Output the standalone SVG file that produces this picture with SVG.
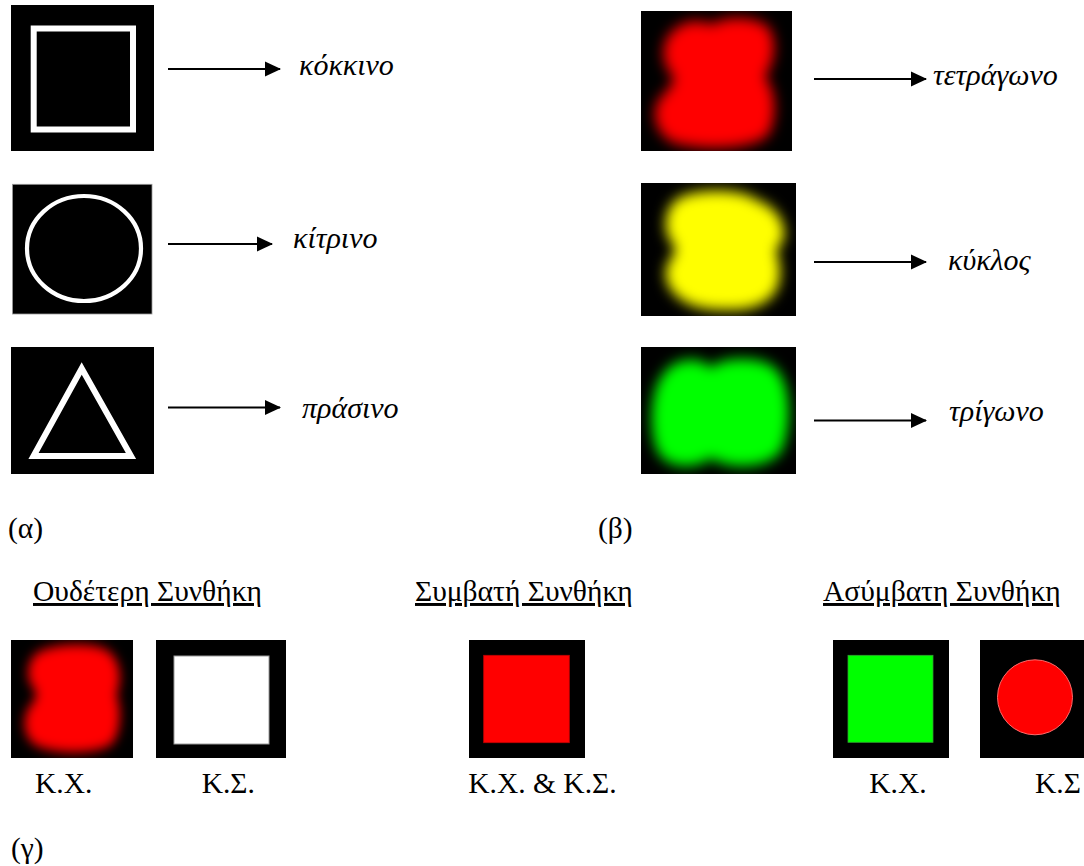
<svg xmlns="http://www.w3.org/2000/svg" width="1084" height="866" viewBox="0 0 1084 866">
  <style>
    text { font-family: 'Liberation Serif', 'Times New Roman', serif; font-size: 29.5px; fill: #000; }
    .it { font-style: italic; font-size: 30px; }
    .ul { text-decoration: underline; }
    .panel { fill: #000; }
    .outline { fill: none; stroke: #fff; stroke-width: 6; }
    .arrow { stroke: #000; stroke-width: 2; fill: none; marker-end: url(#head); }
  </style>
  <defs>
    <marker id="head" markerUnits="userSpaceOnUse" markerWidth="16" markerHeight="16" refX="15" refY="8" orient="auto">
      <path d="M0,0.5 L16,8 L0,15.5 Z" fill="#000"/>
    </marker>
    <filter id="soft" x="-30%" y="-30%" width="160%" height="160%">
      <feGaussianBlur stdDeviation="7"/>
    </filter>
    <filter id="softSmall" x="-30%" y="-30%" width="160%" height="160%">
      <feGaussianBlur stdDeviation="6"/>
    </filter>
    <filter id="ring" x="-10%" y="-10%" width="120%" height="120%">
      <feGaussianBlur stdDeviation="0.7"/>
    </filter>
    <clipPath id="panelClip" clipPathUnits="objectBoundingBox">
      <rect x="0" y="0" width="1" height="1"/>
    </clipPath>
  </defs>

  <!-- (a) outline shapes mapped to colour names -->
  <g id="shape-square">
    <rect class="panel" x="11" y="5" width="143" height="146"/>
    <rect class="outline" x="33.7" y="28.5" width="99.3" height="101"/>
  </g>
  <g id="shape-circle">
    <rect class="panel" x="12.5" y="184.3" width="139.5" height="129.7" stroke="#999" stroke-width="0.8"/>
    <ellipse cx="84" cy="248.5" rx="57" ry="52.5" fill="none" stroke="#fff" stroke-width="4.2" filter="url(#ring)"/>
  </g>
  <g id="shape-triangle">
    <rect class="panel" x="11" y="347" width="143" height="127"/>
    <polygon class="outline" points="81.7,368.5 33.5,456 131,456"/>
  </g>
  <text id="word-red" class="it" x="299" y="75">κόκκινο</text>
  <text id="word-yellow" class="it" x="293" y="248">κίτρινο</text>
  <text id="word-green" class="it" x="302" y="418">πράσινο</text>

  <!-- (b) colour blobs mapped to shape names -->
  <g id="blob-red" transform="translate(641,11)" clip-path="url(#panelClip)">
    <rect class="panel" x="0" y="0" width="151" height="140"/>
    <path fill="#ff0000" filter="url(#soft)" transform="translate(75,0) scale(0.93,1) translate(-75,0)" d="M34,16 C50,6 62,12 72,13 C86,4 118,5 131,16 C141,28 139,52 127,66 C139,76 142,106 131,124 C114,139 62,140 30,132 C8,123 3,97 18,84 C25,77 30,71 30,66 C18,58 10,30 34,16 Z"/>
  </g>
  <g id="blob-yellow" transform="translate(641,183)" clip-path="url(#panelClip)">
    <rect class="panel" x="0" y="0" width="155" height="133"/>
    <path fill="#ffff00" filter="url(#soft)" transform="translate(83,0) scale(0.91,1) translate(-81,0)" d="M30,16 C46,6 98,4 117,17 C132,22 149,34 147,54 C146,62 138,64 138,68 C141,75 145,86 141,101 C135,120 112,128 85,127 C58,128 40,122 29,113 C15,101 13,86 24,74 C29,68 28,64 24,60 C13,49 15,25 30,16 Z"/>
  </g>
  <g id="blob-green" transform="translate(641,347)" clip-path="url(#panelClip)">
    <rect class="panel" x="0" y="0" width="155" height="127"/>
    <path fill="#00ff00" filter="url(#soft)" transform="translate(79,0) scale(0.94,1) translate(-79,0)" d="M19,27 C30,10 60,9 69,21 C81,9 129,8 141,25 C155,42 155,82 144,104 C132,121 92,124 69,111 C54,123 20,122 12,103 C3,82 5,42 19,27 Z"/>
  </g>
  <text id="word-square" class="it" x="933" y="85">τετράγωνο</text>
  <text id="word-circle" class="it" x="948" y="270">κύκλος</text>
  <text id="word-triangle" class="it" x="949" y="421">τρίγωνο</text>

  <g id="connectors">
    <line class="arrow" x1="168" y1="69" x2="280" y2="69"/>
    <line class="arrow" x1="168" y1="244" x2="272" y2="244"/>
    <line class="arrow" x1="168" y1="407.5" x2="280" y2="407.5"/>
    <line class="arrow" x1="814" y1="79" x2="926" y2="79"/>
    <line class="arrow" x1="814" y1="262" x2="926" y2="262"/>
    <line class="arrow" x1="814" y1="420.5" x2="926" y2="420.5"/>
  </g>

  <text x="8" y="538">(α)</text>
  <text x="598" y="538">(β)</text>

  <!-- (c) trial conditions -->
  <text class="ul" x="33" y="601">Ουδέτερη Συνθήκη</text>
  <text class="ul" x="415" y="601">Συμβατή Συνθήκη</text>
  <text class="ul" x="823" y="601">Ασύμβατη Συνθήκη</text>

  <g id="neutral-colour" transform="translate(11,640)" clip-path="url(#panelClip)">
    <rect class="panel" x="0" y="0" width="122" height="118"/>
    <path fill="#ff0000" filter="url(#softSmall)" transform="translate(62,0) scale(0.92,1) translate(-62,0)" d="M23,13 C42,2 93,1 104,14 C115,25 115,44 109,55 C115,66 115,93 104,104 C88,115 42,115 21,105 C6,96 6,73 19,62 C23,56 23,52 19,48 C10,39 12,20 23,13 Z"/>
  </g>
  <g id="neutral-shape">
    <rect class="panel" x="156" y="640" width="130" height="118"/>
    <rect x="174" y="656" width="95" height="88" fill="#fff" stroke="#9a9a9a" stroke-width="1"/>
  </g>
  <g id="congruent">
    <rect class="panel" x="469" y="640" width="116" height="118"/>
    <rect x="483.7" y="655.3" width="85.6" height="87.4" fill="#ff0000" stroke="#c00000" stroke-width="0.8"/>
  </g>
  <g id="incongruent-colour">
    <rect class="panel" x="833" y="640" width="116" height="118"/>
    <rect x="848" y="655.3" width="85" height="87" fill="#00ff00" stroke="#30a030" stroke-width="0.8"/>
  </g>
  <g id="incongruent-shape">
    <rect class="panel" x="980" y="640" width="116" height="118"/>
    <circle cx="1035" cy="697.3" r="37.5" fill="#ff0000" stroke="#ff6a6a" stroke-width="1"/>
  </g>

  <text x="35" y="792.7">Κ.Χ.</text>
  <text x="201.7" y="792.7">Κ.Σ.</text>
  <text x="468.3" y="792.7">Κ.Χ. &amp; Κ.Σ.</text>
  <text x="869.3" y="792.7">Κ.Χ.</text>
  <text x="1035" y="792.7">Κ.Σ</text>

  <text x="11" y="858">(γ)</text>
</svg>
